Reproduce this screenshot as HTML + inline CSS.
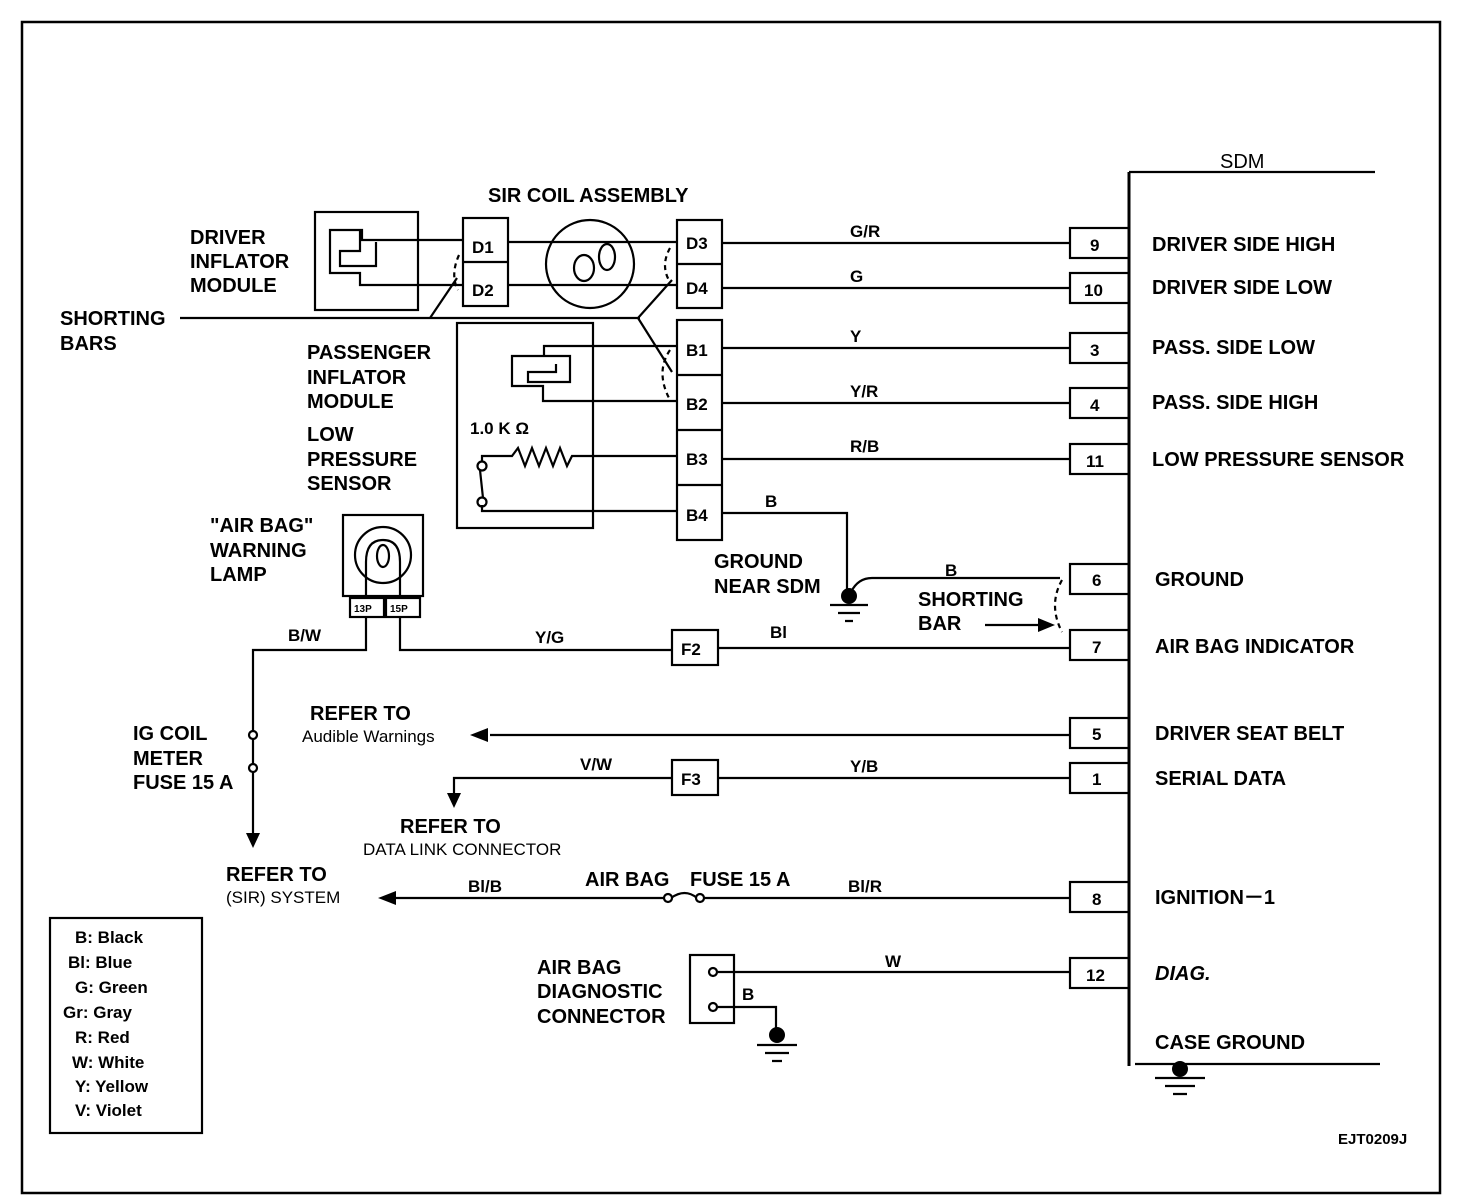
<!DOCTYPE html>
<html><head><meta charset="utf-8"><style>
html,body{margin:0;padding:0;background:#fff;}
svg{display:block;}
text{font-family:"Liberation Sans",Arial,sans-serif;font-weight:bold;font-size:20px;fill:#000;}
.n{font-weight:normal;}
.s{font-size:17px;}
</style></head><body>
<svg width="1472" height="1202" viewBox="0 0 1472 1202" xmlns="http://www.w3.org/2000/svg">
<g fill="none" stroke="#000" stroke-width="2.2">
<rect x="22" y="22" width="1418" height="1171" stroke-width="2.5"/>
<line x1="1129" y1="172" x2="1129" y2="1066" stroke-width="3"/>
<line x1="1129" y1="172" x2="1375" y2="172"/>
<line x1="1135" y1="1064" x2="1380" y2="1064"/>
<rect x="1070" y="228" width="59" height="30"/>
<rect x="1070" y="273" width="59" height="30"/>
<rect x="1070" y="333" width="59" height="30"/>
<rect x="1070" y="388" width="59" height="30"/>
<rect x="1070" y="444" width="59" height="30"/>
<rect x="1070" y="564" width="59" height="30"/>
<rect x="1070" y="630" width="59" height="30"/>
<rect x="1070" y="718" width="59" height="30"/>
<rect x="1070" y="763" width="59" height="30"/>
<rect x="1070" y="882" width="59" height="30"/>
<rect x="1070" y="958" width="59" height="30"/>
<rect x="315" y="212" width="103" height="98"/>
<path d="M403 240 H362 V230 H360 M360 230 H330 V273 H360 V285 H403 M360 230 V251 H340 V266 H376 V242"/>
<path d="M403 240 H463 M403 285 H463"/>
<rect x="463" y="218" width="45" height="88"/>
<line x1="463" y1="262" x2="508" y2="262"/>
<circle cx="590" cy="264" r="44"/>
<path d="M508 242 H677 M508 285 H677"/>
<ellipse cx="584" cy="268" rx="10" ry="13"/>
<ellipse cx="607" cy="257" rx="8" ry="13"/>
<rect x="677" y="220" width="45" height="88"/>
<line x1="677" y1="264" x2="722" y2="264"/>
<rect x="677" y="320" width="45" height="220"/>
<path d="M677 375 H722 M677 430 H722 M677 485 H722"/>
<rect x="457" y="323" width="136" height="205"/>
<path d="M677 346 H544 V356 H512 V386 H543 V401 H677 M544 356 H570 V382 H528 V372 H556 V364"/>
<path d="M677 456 H572 L567 466 L560 448 L553 466 L546 448 L539 466 L532 448 L525 466 L518 448 L512 456 H482 V462 M480 470 L483 498 M482 505 V511 H677"/>
<circle cx="482" cy="466" r="4.5"/>
<circle cx="482" cy="502" r="4.5"/>
<path d="M180 318 H640 M430 318 L457 278 M638 318 L672 280 M638 318 L672 372"/>
<path d="M459 255 Q450 275 458 290" stroke-dasharray="5,4"/>
<path d="M670 248 Q660 266 670 282" stroke-dasharray="5,4"/>
<path d="M670 350 Q655 372 670 400" stroke-dasharray="5,4"/>
<path d="M722 243 H1070 M722 288 H1070 M722 348 H1070 M722 403 H1070 M722 459 H1070"/>
<path d="M722 513 H847 V590"/>
<path d="M851 592 Q858 578 872 578 H1060"/>
<path d="M1062 580 Q1048 605 1062 632" stroke-dasharray="5,4"/>
<path d="M985 625 H1038"/>
<rect x="343" y="515" width="80" height="81"/>
<circle cx="383" cy="555" r="28"/>
<path d="M366 598 V562 Q366 540 383 540 Q400 540 400 562 V598"/>
<ellipse cx="383" cy="556" rx="6" ry="11"/>
<rect x="350" y="598" width="34" height="19"/>
<rect x="386" y="598" width="34" height="19"/>
<path d="M366 617 V650 H253 V835"/>
<path d="M400 617 V650 H672 M718 648 H1070"/>
<rect x="672" y="630" width="46" height="35"/>
<circle cx="253" cy="735" r="4" fill="#fff"/>
<circle cx="253" cy="768" r="4" fill="#fff"/>
<path d="M490 735 H1070"/>
<rect x="672" y="760" width="46" height="35"/>
<path d="M718 778 H1070 M672 778 H454 V795"/>
<path d="M395 898 H665 M703 898 H1070 M671 898 Q685 888 697 898"/>
<circle cx="668" cy="898" r="4" fill="#fff"/>
<circle cx="700" cy="898" r="4" fill="#fff"/>
<rect x="690" y="955" width="44" height="68"/>
<path d="M718 972 H1070 M718 1007 H776 V1030"/>
<circle cx="713" cy="972" r="4" fill="#fff"/>
<circle cx="713" cy="1007" r="4" fill="#fff"/>
<path d="M830 605 H868 M838 613 H860 M845 621 H853"/>
<path d="M757 1045 H797 M765 1053 H789 M772 1061 H782"/>
<path d="M1155 1078 H1205 M1165 1086 H1195 M1173 1094 H1187"/>
<rect x="50" y="918" width="152" height="215"/>
</g>
<g fill="#000">
<circle cx="849" cy="596" r="8"/>
<circle cx="777" cy="1035" r="8"/>
<circle cx="1180" cy="1069" r="8"/>
<polygon points="253,848 246,833 260,833"/>
<polygon points="470,735 488,728 488,742"/>
<polygon points="454,808 447,793 461,793"/>
<polygon points="378,898 396,891 396,905"/>
<polygon points="1055,625 1038,618 1038,632"/>
</g>
<text x="1220" y="168" class="n">SDM</text>
<text x="488" y="202">SIR COIL ASSEMBLY</text>
<text x="190" y="244">DRIVER</text>
<text x="190" y="268">INFLATOR</text>
<text x="190" y="292">MODULE</text>
<text x="60" y="325">SHORTING</text>
<text x="60" y="350">BARS</text>
<text x="307" y="359">PASSENGER</text>
<text x="307" y="384">INFLATOR</text>
<text x="307" y="408">MODULE</text>
<text x="307" y="441">LOW</text>
<text x="307" y="466">PRESSURE</text>
<text x="307" y="490">SENSOR</text>
<text x="470" y="434" class="s">1.0 K Ω</text>
<text x="472" y="253" class="s">D1</text><text x="472" y="296" class="s">D2</text>
<text x="686" y="249" class="s">D3</text><text x="686" y="294" class="s">D4</text>
<text x="686" y="356" class="s">B1</text><text x="686" y="410" class="s">B2</text>
<text x="686" y="465" class="s">B3</text><text x="686" y="521" class="s">B4</text>
<text x="850" y="237" class="s">G/R</text>
<text x="850" y="282" class="s">G</text>
<text x="850" y="342" class="s">Y</text>
<text x="850" y="397" class="s">Y/R</text>
<text x="850" y="452" class="s">R/B</text>
<text x="765" y="507" class="s">B</text>
<text x="945" y="576" class="s">B</text>
<text x="770" y="638" class="s">Bl</text>
<text x="535" y="643" class="s">Y/G</text>
<text x="288" y="641" class="s">B/W</text>
<text x="580" y="770" class="s">V/W</text>
<text x="850" y="772" class="s">Y/B</text>
<text x="468" y="892" class="s">Bl/B</text>
<text x="848" y="892" class="s">Bl/R</text>
<text x="885" y="967" class="s">W</text>
<text x="742" y="1000" class="s">B</text>
<text x="681" y="655" class="s">F2</text>
<text x="681" y="785" class="s">F3</text>
<text x="1090" y="251" class="s">9</text>
<text x="1084" y="296" class="s">10</text>
<text x="1090" y="356" class="s">3</text>
<text x="1090" y="411" class="s">4</text>
<text x="1086" y="467" class="s">11</text>
<text x="1092" y="586" class="s">6</text>
<text x="1092" y="653" class="s">7</text>
<text x="1092" y="740" class="s">5</text>
<text x="1092" y="785" class="s">1</text>
<text x="1092" y="905" class="s">8</text>
<text x="1086" y="981" class="s">12</text>
<text x="1152" y="251">DRIVER SIDE HIGH</text>
<text x="1152" y="294">DRIVER SIDE LOW</text>
<text x="1152" y="354">PASS. SIDE LOW</text>
<text x="1152" y="409">PASS. SIDE HIGH</text>
<text x="1152" y="466">LOW PRESSURE SENSOR</text>
<text x="1155" y="586">GROUND</text>
<text x="1155" y="653">AIR BAG INDICATOR</text>
<text x="1155" y="740">DRIVER SEAT BELT</text>
<text x="1155" y="785">SERIAL DATA</text>
<text x="1155" y="904">IGNITION－1</text>
<text x="1155" y="980" style="font-style:italic">DIAG.</text>
<text x="1155" y="1049">CASE GROUND</text>
<text x="210" y="532">"AIR BAG"</text>
<text x="210" y="557">WARNING</text>
<text x="210" y="581">LAMP</text>
<text x="354" y="612" style="font-size:10px">13P</text>
<text x="390" y="612" style="font-size:10px">15P</text>
<text x="714" y="568">GROUND</text>
<text x="714" y="593">NEAR SDM</text>
<text x="918" y="606">SHORTING</text>
<text x="918" y="630">BAR</text>
<text x="133" y="740">IG COIL</text>
<text x="133" y="765">METER</text>
<text x="133" y="789">FUSE 15 A</text>
<text x="310" y="720">REFER TO</text>
<text x="302" y="742" class="n s">Audible Warnings</text>
<text x="400" y="833">REFER TO</text>
<text x="363" y="855" class="n s">DATA LINK CONNECTOR</text>
<text x="226" y="881">REFER TO</text>
<text x="226" y="903" class="n s">(SIR) SYSTEM</text>
<text x="585" y="886">AIR BAG</text>
<text x="690" y="886">FUSE 15 A</text>
<text x="537" y="974">AIR BAG</text>
<text x="537" y="998">DIAGNOSTIC</text>
<text x="537" y="1023">CONNECTOR</text>
<text x="75" y="943" class="s">B:  Black</text>
<text x="68" y="968" class="s">Bl:  Blue</text>
<text x="75" y="993" class="s">G:  Green</text>
<text x="63" y="1018" class="s">Gr:  Gray</text>
<text x="75" y="1043" class="s">R:  Red</text>
<text x="72" y="1068" class="s">W:  White</text>
<text x="75" y="1092" class="s">Y:  Yellow</text>
<text x="75" y="1116" class="s">V:  Violet</text>
<text x="1338" y="1144" style="font-size:15px">EJT0209J</text>
</svg>
</body></html>
